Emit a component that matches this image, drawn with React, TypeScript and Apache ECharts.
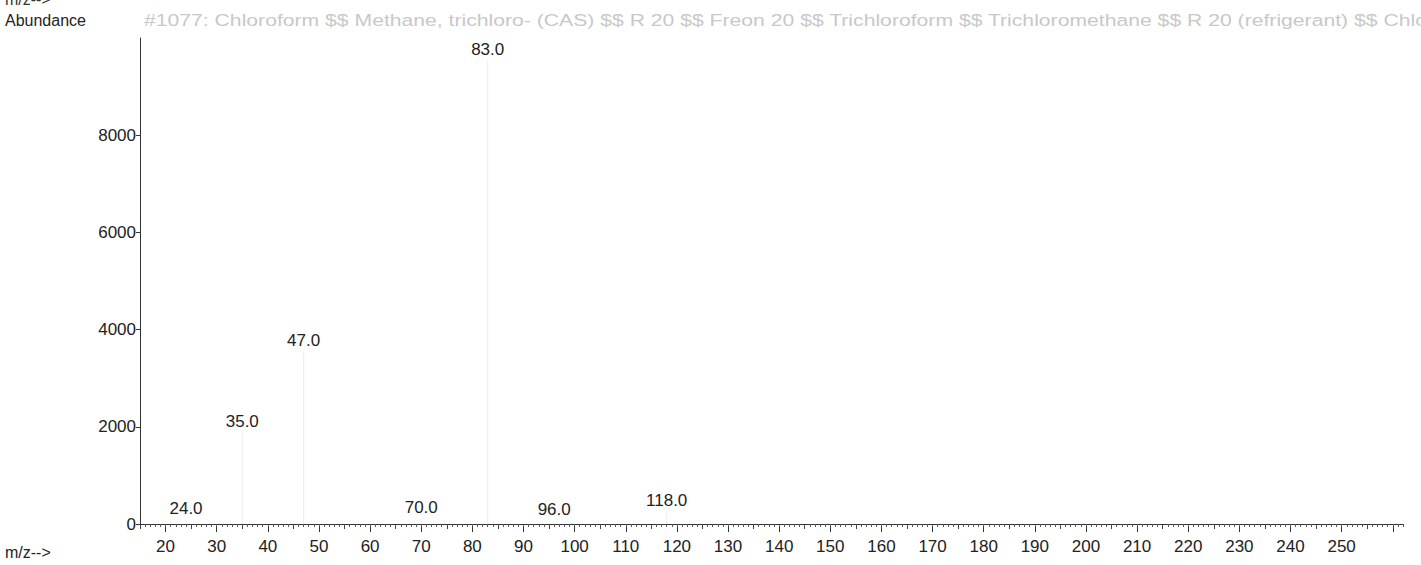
import React, { useEffect, useRef } from "react";
import * as echarts from "echarts";

const mz = [24, 35, 47, 70, 83, 96, 118];
const abundance = [80, 1880, 3530, 100, 9520, 60, 240];
const peakLabels = ["24.0", "35.0", "47.0", "70.0", "83.0", "96.0", "118.0"];
const xTickLabels = [20, 30, 40, 50, 60, 70, 80, 90, 100, 110, 120, 130, 140, 150, 160, 170, 180, 190, 200, 210, 220, 230, 240, 250];
const yTickLabels = [0, 2000, 4000, 6000, 8000];
const titleText =
  "#1077: Chloroform $$ Methane, trichloro- (CAS) $$ R 20 $$ Freon 20 $$ Trichloroform $$ Trichloromethane $$ R 20 (refrigerant) $$ Chloro";

const X_MIN = 15;
const X_MAX = 262;

export default function App() {
  const ref = useRef<HTMLDivElement>(null);
  useEffect(() => {
    document.body.style.margin = "0";
    const chart = echarts.init(ref.current!, undefined, { renderer: "svg" });
    const minorTicks: number[] = [];
    for (let v = X_MIN; v <= X_MAX; v++) minorTicks.push(v);
    const midTicks = minorTicks.filter((v) => v % 5 === 0 && v % 10 !== 0);
    const font = "Liberation Sans";
    const grid = { left: 140, right: 18, top: 38, bottom: 41 };
    chart.setOption({
      animation: false,
      backgroundColor: "#ffffff",
      textStyle: { fontFamily: font },
      grid,
      graphic: [
        { type: "text", x: 5, y: -9, style: { text: "m/z-->", fontSize: 16, fontFamily: font, fill: "#333" } },
        { type: "text", x: 5, y: 12, style: { text: "Abundance", fontSize: 16, fontFamily: font, fill: "#222" } },
        { type: "text", x: 5, y: 544, style: { text: "m/z-->", fontSize: 16, fontFamily: font, fill: "#222" } },
        {
          type: "text",
          x: 144,
          y: 12,
          scaleX: 1.245,
          style: { text: titleText, fontSize: 17, fontFamily: font, fill: "#c8c8c8" },
        },
      ],
      xAxis: [
        {
          type: "value",
          min: X_MIN,
          max: X_MAX,
          splitLine: { show: false },
          axisLine: { show: true, onZero: false, lineStyle: { color: "#333", width: 1 } },
          axisTick: { show: true, customValues: xTickLabels.concat([260]), length: 8, lineStyle: { color: "#333" } },
          axisLabel: { customValues: xTickLabels, fontSize: 17, color: "#222", margin: 14, fontFamily: font },
        },
        {
          type: "value",
          min: X_MIN,
          max: X_MAX,
          position: "bottom",
          splitLine: { show: false },
          axisLine: { show: false },
          axisTick: { show: true, customValues: minorTicks, length: 3, lineStyle: { color: "#555" } },
          axisLabel: { show: false },
        },
        {
          type: "value",
          min: X_MIN,
          max: X_MAX,
          position: "bottom",
          splitLine: { show: false },
          axisLine: { show: false },
          axisTick: { show: true, customValues: midTicks, length: 5, lineStyle: { color: "#444" } },
          axisLabel: { show: false },
        },
      ],
      yAxis: {
        type: "value",
        min: 0,
        max: 10000,
        splitLine: { show: false },
        axisLine: { show: true, lineStyle: { color: "#333", width: 1 } },
        axisTick: { show: true, customValues: yTickLabels, length: 4, lineStyle: { color: "#333" } },
        axisLabel: {
          customValues: yTickLabels,
          fontSize: 17,
          color: "#222",
          margin: 4,
          fontFamily: font,
          formatter: (v: number) => String(v),
        },
      },
      series: [
        {
          type: "bar",
          xAxisIndex: 0,
          barWidth: 1,
          data: mz.map((m, i) => [m, abundance[i]]),
          itemStyle: { color: "#ececec" },
          label: {
            show: true,
            position: "top",
            distance: 3,
            fontSize: 17,
            color: "#222",
            fontFamily: font,
            formatter: (p: any) => peakLabels[p.dataIndex],
          },
        },
      ],
    });
    return () => chart.dispose();
  }, []);
  return <div ref={ref} style={{ width: 1421, height: 565 }} />;
}
